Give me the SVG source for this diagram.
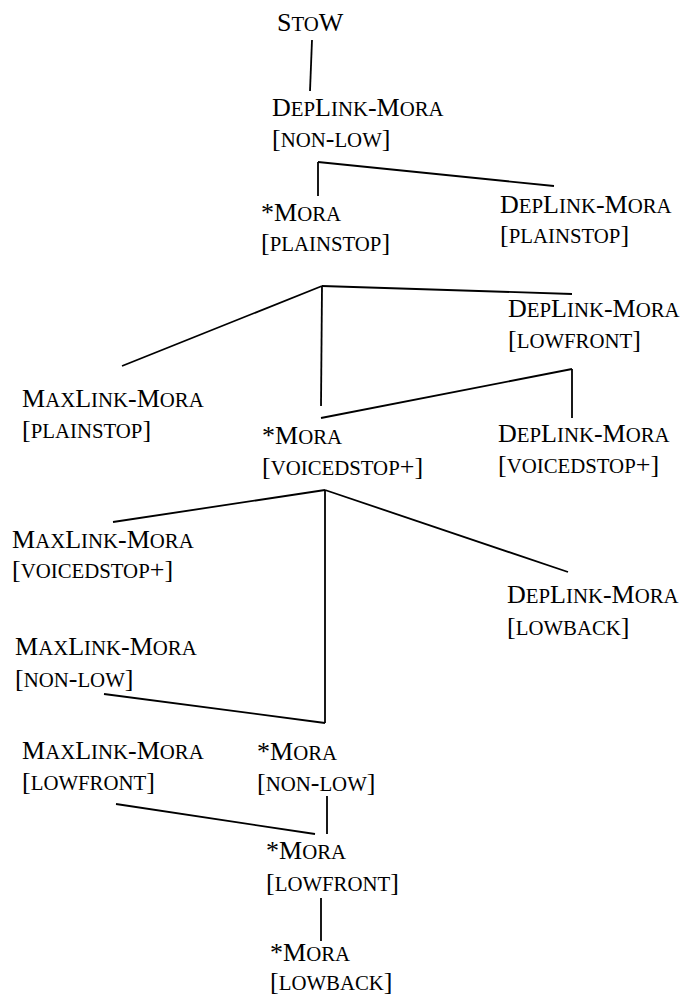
<svg xmlns="http://www.w3.org/2000/svg" width="685" height="998" viewBox="0 0 685 998">
<style>
.t { font-family: "Liberation Serif", "Times New Roman", serif; font-size: 26px; fill: #000; }
.s { font-size: 20.8px; }
#connectors line { stroke: #000; stroke-width: 1.8; stroke-linecap: butt; }
</style>
<rect width="685" height="998" fill="#fff"/>
<g id="connectors">
  <line x1="312" y1="40" x2="310" y2="91"/>
  <line x1="318" y1="162" x2="318" y2="196"/>
  <line x1="318" y1="162" x2="554" y2="186"/>
  <line x1="322" y1="286" x2="122" y2="366"/>
  <line x1="322" y1="286" x2="572" y2="294"/>
  <line x1="322" y1="286" x2="321" y2="406"/>
  <line x1="321" y1="418" x2="572" y2="369"/>
  <line x1="572" y1="369" x2="572" y2="418"/>
  <line x1="325" y1="490" x2="113" y2="522"/>
  <line x1="325" y1="490" x2="568" y2="572"/>
  <line x1="325" y1="490" x2="325" y2="723"/>
  <line x1="104" y1="694" x2="325" y2="723"/>
  <line x1="327" y1="796" x2="327" y2="834"/>
  <line x1="116" y1="804" x2="315" y2="834"/>
  <line x1="321" y1="898" x2="321" y2="941"/>
</g>
<g id="n-stow">
  <text class="t" x="277" y="31">S<tspan class="s">TO</tspan>W</text>
</g>
<g id="n-deplink-nonlow">
  <text class="t" x="272" y="116">D<tspan class="s">EP</tspan>L<tspan class="s">INK</tspan>-M<tspan class="s">ORA</tspan></text>
  <text class="t" x="272" y="147">[<tspan class="s">NON</tspan>-<tspan class="s">LOW</tspan>]</text>
</g>
<g id="n-mora-plainstop">
  <text class="t" x="261" y="221">*M<tspan class="s">ORA</tspan></text>
  <text class="t" x="261" y="251">[<tspan class="s">PLAINSTOP</tspan>]</text>
</g>
<g id="n-deplink-plainstop">
  <text class="t" x="500" y="213">D<tspan class="s">EP</tspan>L<tspan class="s">INK</tspan>-M<tspan class="s">ORA</tspan></text>
  <text class="t" x="500" y="243">[<tspan class="s">PLAINSTOP</tspan>]</text>
</g>
<g id="n-deplink-lowfront">
  <text class="t" x="508" y="317">D<tspan class="s">EP</tspan>L<tspan class="s">INK</tspan>-M<tspan class="s">ORA</tspan></text>
  <text class="t" x="508" y="348">[<tspan class="s">LOWFRONT</tspan>]</text>
</g>
<g id="n-maxlink-plainstop">
  <text class="t" x="22" y="407">M<tspan class="s">AX</tspan>L<tspan class="s">INK</tspan>-M<tspan class="s">ORA</tspan></text>
  <text class="t" x="22" y="438">[<tspan class="s">PLAINSTOP</tspan>]</text>
</g>
<g id="n-mora-voicedstop">
  <text class="t" x="262" y="444">*M<tspan class="s">ORA</tspan></text>
  <text class="t" x="262" y="475">[<tspan class="s">VOICEDSTOP</tspan>+]</text>
</g>
<g id="n-deplink-voicedstop">
  <text class="t" x="498" y="442">D<tspan class="s">EP</tspan>L<tspan class="s">INK</tspan>-M<tspan class="s">ORA</tspan></text>
  <text class="t" x="498" y="473">[<tspan class="s">VOICEDSTOP</tspan>+]</text>
</g>
<g id="n-maxlink-voicedstop">
  <text class="t" x="12" y="548">M<tspan class="s">AX</tspan>L<tspan class="s">INK</tspan>-M<tspan class="s">ORA</tspan></text>
  <text class="t" x="12" y="578">[<tspan class="s">VOICEDSTOP</tspan>+]</text>
</g>
<g id="n-deplink-lowback">
  <text class="t" x="507" y="603">D<tspan class="s">EP</tspan>L<tspan class="s">INK</tspan>-M<tspan class="s">ORA</tspan></text>
  <text class="t" x="507" y="635">[<tspan class="s">LOWBACK</tspan>]</text>
</g>
<g id="n-maxlink-nonlow">
  <text class="t" x="15" y="655">M<tspan class="s">AX</tspan>L<tspan class="s">INK</tspan>-M<tspan class="s">ORA</tspan></text>
  <text class="t" x="15" y="687">[<tspan class="s">NON</tspan>-<tspan class="s">LOW</tspan>]</text>
</g>
<g id="n-maxlink-lowfront">
  <text class="t" x="22" y="759">M<tspan class="s">AX</tspan>L<tspan class="s">INK</tspan>-M<tspan class="s">ORA</tspan></text>
  <text class="t" x="22" y="790">[<tspan class="s">LOWFRONT</tspan>]</text>
</g>
<g id="n-mora-nonlow">
  <text class="t" x="257" y="760">*M<tspan class="s">ORA</tspan></text>
  <text class="t" x="257" y="791">[<tspan class="s">NON</tspan>-<tspan class="s">LOW</tspan>]</text>
</g>
<g id="n-mora-lowfront">
  <text class="t" x="266" y="859">*M<tspan class="s">ORA</tspan></text>
  <text class="t" x="266" y="891">[<tspan class="s">LOWFRONT</tspan>]</text>
</g>
<g id="n-mora-lowback">
  <text class="t" x="270" y="961">*M<tspan class="s">ORA</tspan></text>
  <text class="t" x="270" y="990">[<tspan class="s">LOWBACK</tspan>]</text>
</g>
</svg>
